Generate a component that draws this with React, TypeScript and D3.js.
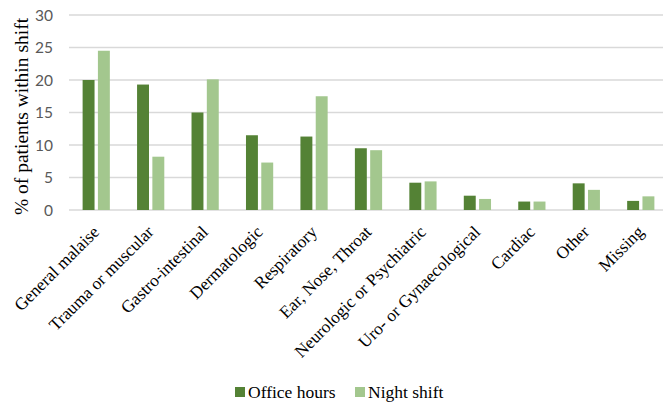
import React from "react";
import * as d3 from "d3";

const categories = [
  "General malaise",
  "Trauma or muscular",
  "Gastro-intestinal",
  "Dermatologic",
  "Respiratory",
  "Ear, Nose, Throat",
  "Neurologic or Psychiatric",
  "Uro- or Gynaecological",
  "Cardiac",
  "Other",
  "Missing",
];
const seriesNames = ["Office hours", "Night shift"];
const officeHours = [20.0, 19.3, 15.0, 11.5, 11.3, 9.5, 4.2, 2.2, 1.3, 4.1, 1.4];
const nightShift = [24.5, 8.2, 20.1, 7.3, 17.5, 9.2, 4.4, 1.7, 1.3, 3.1, 2.1];
const yTicks = [0, 5, 10, 15, 20, 25, 30];
const colors = ["#548235", "#A3C78E"];

const W = 663;
const H = 403;
const plotLeft = 69;
const plotRight = 668;
const plotTop = 15;
const plotBottom = 210;
const serifStyle = { fontFamily: '"Liberation Serif", "Times New Roman", "DejaVu Serif", serif' };

export default function App() {
  const x0 = d3
    .scaleBand<string>()
    .domain(categories)
    .range([plotLeft, plotRight])
    .paddingInner(0.5)
    .paddingOuter(0.25);
  const x1 = d3
    .scaleBand<string>()
    .domain(seriesNames)
    .range([0, x0.bandwidth()])
    .paddingInner(0.22);
  const y = d3.scaleLinear().domain([0, 30]).range([plotBottom, plotTop]);
  const series = [officeHours, nightShift];

  const legendItems = [
    { name: seriesNames[0], x: 235 },
    { name: seriesNames[1], x: 355 },
  ];

  return (
    <svg
      width={W}
      height={H}
      style={{ position: "absolute", left: 0, top: 0, background: "#fff" }}
    >
      <rect x={0} y={0} width={W} height={H} fill="#fff" />
      {yTicks.map((t) => (
        <g key={t}>
          <line
            x1={plotLeft}
            x2={W}
            y1={y(t)}
            y2={y(t)}
            stroke="#D9D9D9"
            strokeWidth={1.5}
          />
          <text
            x={53}
            y={y(t)}
            dy="0.36em"
            textAnchor="end"
            style={{ fontFamily: "Lato, 'Open Sans', sans-serif" }}
            fontSize={15.5}
            fill="#595959"
          >
            {t}
          </text>
        </g>
      ))}
      {categories.map((c, i) => (
        <g key={c}>
          {series.map((s, j) => (
            <rect
              key={j}
              x={(x0(c) as number) + (x1(seriesNames[j]) as number)}
              y={y(s[i])}
              width={x1.bandwidth()}
              height={plotBottom - y(s[i])}
              fill={colors[j]}
            />
          ))}
          <text
            transform={`translate(${(x0(c) as number) + x0.bandwidth() / 2 + 4},${233}) rotate(-45)`}
            textAnchor="end"
            style={serifStyle}
            fontSize={17.3}
            fill="#000"
          >
            {c}
          </text>
        </g>
      ))}
      <text
        transform={`translate(28,${(plotTop + plotBottom) / 2 + 4}) rotate(-90)`}
        textAnchor="middle"
        style={serifStyle}
        fontSize={19.5}
        fill="#000"
      >
        % of patients within shift
      </text>
      {legendItems.map((l, j) => (
        <g key={l.name}>
          <rect x={l.x} y={387} width={10} height={10} fill={colors[j]} />
          <text
            x={l.x + 13}
            y={397.5}
            style={serifStyle}
            fontSize={17.5}
            fill="#000"
          >
            {l.name}
          </text>
        </g>
      ))}
    </svg>
  );
}
